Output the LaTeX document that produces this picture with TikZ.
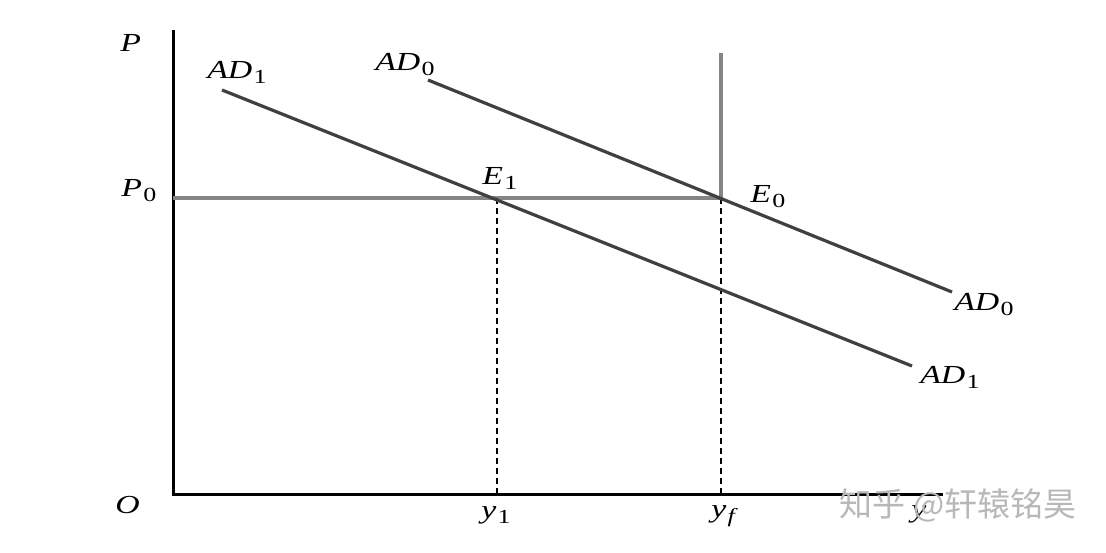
\documentclass[tikz,border=0pt]{standalone}
\usepackage{fontspec}
\setmainfont{Liberation Serif}
\newfontfamily\cjk{Noto Sans CJK SC}
\newcommand{\lsub}[1]{\kern0.04em\raisebox{-0.22em}{\fontsize{20}{22}\selectfont\upshape #1}}
\begin{document}
\begin{tikzpicture}[x=1pt,y=-1pt,
  axis/.style={line width=3pt,black},
  curve/.style={line width=3.2pt,color=black!75},
  gline/.style={line width=3.4pt,color=black!48},
  dashline/.style={line width=1.6pt,black,dash pattern=on 6pt off 4pt},
  lbl/.style={inner sep=0pt,anchor=base west,xscale=1.3,font=\fontsize{26}{30}\selectfont\itshape}]
\useasboundingbox[fill=white] (0,0) rectangle (1106,552);
% coordinates
\coordinate (Otop) at (173,30);
\coordinate (O) at (173,494);
\coordinate (Xend) at (943,494);
\coordinate (P0) at (173,198);
\coordinate (E1) at (497,198);
\coordinate (E0) at (721,198);
\coordinate (Vtop) at (721,53);
\coordinate (y1) at (497,494);
\coordinate (yf) at (721,494);
\coordinate (AD0s) at (428,80);
\coordinate (AD0e) at (952,292);
\coordinate (AD1s) at (222,90);
\coordinate (AD1e) at (912,366);
% axes
\draw[axis] (Otop) -- (O) -- (Xend);
% gray lines
\draw[gline] (P0) -- (E0) -- (Vtop);
% dashed
\draw[dashline] (E1) -- (y1);
\draw[dashline] (E0) -- (yf);
% curves
\draw[curve] (AD0s) -- (AD0e);
\draw[curve] (AD1s) -- (AD1e);
% labels
\node[lbl] (lP) at (120,51) {P};
\node[lbl] (lP0) at (121,196) {P\lsub{0}};
\node[lbl] (lAD1a) at (207,78) {AD\lsub{1}};
\node[lbl] (lAD0a) at (375,70) {AD\lsub{0}};
\node[lbl] (lE1) at (482,184) {E\lsub{1}};
\node[lbl] (lE0) at (750,202) {E\lsub{0}};
\node[lbl] (lAD0b) at (954,310) {AD\lsub{0}};
\node[lbl] (lAD1b) at (920,383) {AD\lsub{1}};
\node[lbl] (lO) at (115,513) {O};
\node[lbl] (ly1) at (481,518) {y\lsub{1}};
\node[lbl] (lyf) at (711,517) {y\lsub{\itshape f}};
\node[lbl] (ly) at (911,517) {y};
\node[inner sep=0pt,text=black!28,font=\cjk\fontsize{33}{36}\selectfont] (wm) at (958,505) {知乎 @轩辕铭昊};
\end{tikzpicture}
\end{document}
